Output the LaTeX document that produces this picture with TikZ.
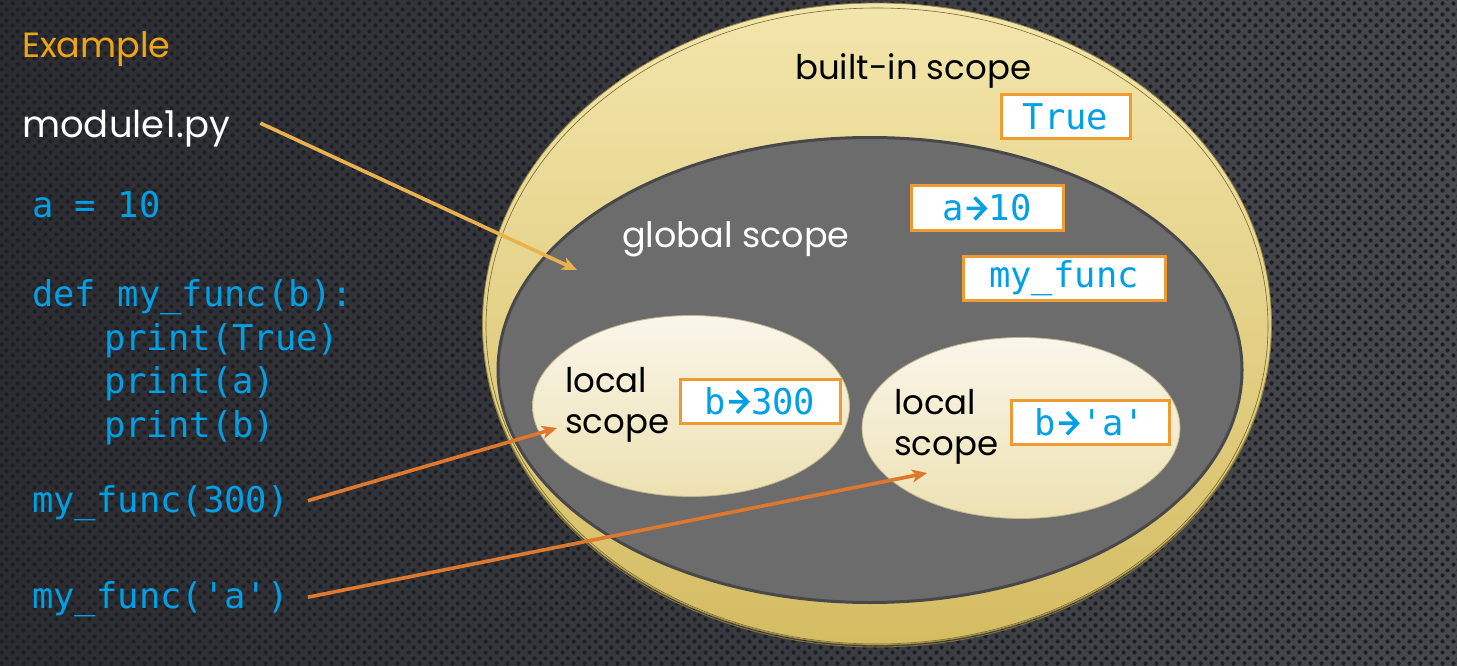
\documentclass[tikz,border=0pt]{standalone}
\usepackage{fontspec}
\setmainfont{Poppins}
\newfontfamily\codefont{DejaVu Sans Mono}
\usepackage{xcolor}
\usetikzlibrary{arrows.meta,positioning,shapes.geometric,patterns.meta}

\definecolor{bgleft}{RGB}{42,44,49}
\definecolor{bgright}{RGB}{70,72,78}
\definecolor{dotcol}{RGB}{28,30,33}
\definecolor{titleorange}{RGB}{240,165,20}
\definecolor{codeblue}{RGB}{0,160,230}
\definecolor{boxorange}{RGB}{240,155,50}
\definecolor{modarrow}{RGB}{233,178,78}
\definecolor{callarrowcol}{RGB}{222,120,46}
\definecolor{outertop}{RGB}{243,230,172}
\definecolor{outerbot}{RGB}{212,188,98}
\definecolor{globalfill}{RGB}{108,108,108}
\definecolor{globalline}{RGB}{72,72,74}
\definecolor{localtop}{RGB}{250,246,234}
\definecolor{localbot}{RGB}{237,225,178}

\tikzdeclarepattern{
  name=bgdots,
  type=uncolored,
  bottom left={(0pt,0pt)},
  top right={(11pt,11pt)},
  tile size={(11pt,11pt)},
  code={
    \fill (2.75pt,2.75pt) circle (2.3pt);
    \fill (8.25pt,8.25pt) circle (2.3pt);
  }
}

% chevron arrow used inside the name boxes
\newcommand\maparrow{\kern1pt\tikz[baseline=0pt,x=1pt,y=1pt]{\draw[codeblue,line width=3.6pt,line cap=butt,line join=miter] (0,12.5) -- (17,12.5) (8,1.5) -- (18.5,12.5) -- (8,23.5);}\kern2pt}

\tikzset{
  outerscope/.style={ellipse,draw=outerbot!70!black,line width=0.8pt,top color=outertop,bottom color=outerbot,inner sep=0pt},
  globalscope/.style={ellipse,draw=globalline,line width=3pt,fill=globalfill,inner sep=0pt},
  localscope/.style={ellipse,draw=localbot!80!black,line width=0.8pt,top color=localtop,bottom color=localbot,inner sep=0pt},
  scopetext/.style={font=\fontsize{34}{41}\selectfont,inner sep=0pt,anchor=base west,align=left},
  codeline/.style={font=\codefont\fontsize{35.5}{43}\selectfont,text=codeblue,inner sep=0pt,anchor=base west},
  namebox/.style={draw=boxorange,line width=3pt,fill=white,font=\codefont\fontsize{35.5}{43}\selectfont,text=codeblue,minimum height=44pt,inner sep=0pt},
  arrow/.style={-{Stealth[length=15pt,width=13pt,inset=4pt]},line width=3.6pt},
}

\begin{document}
\begin{tikzpicture}[x=1pt,y=-1pt]
  \useasboundingbox (0,0) rectangle (1457,666);
  \shade[left color=bgleft,right color=bgright] (0,0) rectangle (1457,666);
  \fill[pattern=bgdots,pattern color=dotcol] (0,0) rectangle (1457,666);

  % code on the left
  \node (example) [scopetext,text=titleorange,font=\fontsize{35}{41}\selectfont] at (22,58) {Example};
  \node (modfile) [scopetext,text=white,font=\fontsize{37}{41}\selectfont] at (22,138) {module1.py};
  \node (assign) [codeline] at (32,217) {a = 10};
  \node (defline) [codeline] at (32,306) {def my\_func(b):};
  \node (prTrue) [codeline] at (104,350) {print(True)};
  \node (prA) [codeline] at (104,393) {print(a)};
  \node (prB) [codeline] at (104,437) {print(b)};
  \node (call300) [codeline] at (32,512) {my\_func(300)};
  \node (callA) [codeline] at (32,608) {my\_func('a')};

  % nested scopes
  \draw[line width=1pt,draw=outerbot!60!black] (877,327) ellipse (394pt and 320pt);
  \node (builtin) [outerscope,minimum width=789pt,minimum height=642pt] at (877,324) {};
  \draw[line width=0.6pt,draw=outerbot!55!black] (877,326) ellipse (391pt and 318pt);
  \node (global) [globalscope,minimum width=744pt,minimum height=465pt] at (870,370) {};
  \node (localA) [localscope,minimum width=317pt,minimum height=181pt] at (691,406) {};
  \node (localB) [localscope,minimum width=318pt,minimum height=181pt] at (1021,428) {};

  \node (builtinlbl) [scopetext] at (795,80) {built-in scope};
  \node (globallbl) [scopetext,text=white,font=\fontsize{35}{41}\selectfont] at (622,247) {global scope};
  \node (localAlbl) [scopetext] at (565,433) {local\\scope};
  \node (localBlbl) [scopetext] at (894,455) {local\\scope};

  % names in each scope
  \node (trueBox) [namebox,minimum width=129pt] at (1065.5,117) {True};
  \node (aBox) [namebox,minimum width=152pt] at (987,208) {a\maparrow10};
  \node (funcBox) [namebox,minimum width=202pt] at (1064,278) {my\_func};
  \node (b300Box) [namebox,minimum width=160pt] at (760,401) {b\maparrow300};
  \node (bABox) [namebox,minimum width=158pt] at (1090,422.5) {b\maparrow'a'};

  % arrows
  \coordinate (globalpt) at (577,270);
  \coordinate (localApt) at (557,428);
  \coordinate (localBpt) at (927,473);
  \draw[arrow,modarrow] ([xshift=30pt,yshift=6pt]modfile.east) -- (globalpt);
  \draw[arrow,callarrowcol] ([xshift=19pt,yshift=2pt]call300.east) -- (localApt);
  \draw[arrow,callarrowcol] ([xshift=19pt,yshift=1.5pt]callA.east) -- (localBpt);
\end{tikzpicture}
\end{document}
